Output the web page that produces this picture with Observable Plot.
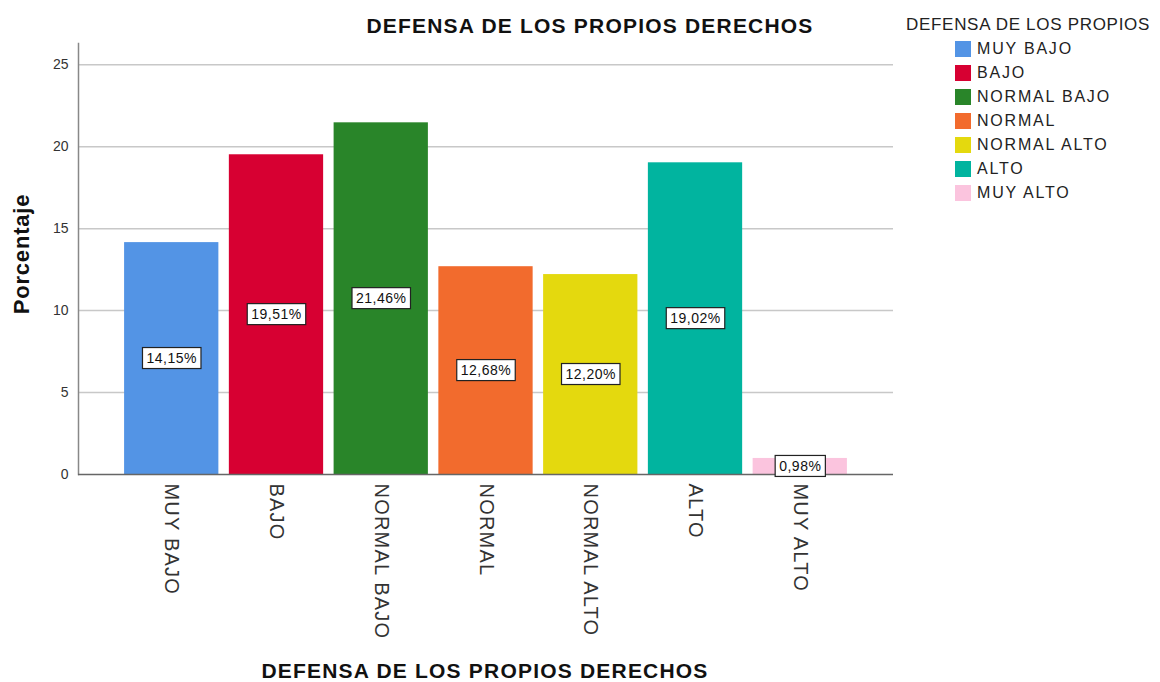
<!DOCTYPE html>
<html>
<head>
<meta charset="utf-8">
<script src="https://cdn.jsdelivr.net/npm/d3@7"></script>
<script src="https://cdn.jsdelivr.net/npm/@observablehq/plot@0.6"></script>
<style>
  body { margin: 0; background: #fff; font-family: "Liberation Sans", Arial, sans-serif; }
  #wrap { position: relative; width: 1160px; height: 682px; overflow: hidden; }
  #chart { position: absolute; left: 0; top: 0; }
  .title { position: absolute; font-weight: bold; font-size: 21px; color: #111; white-space: nowrap; letter-spacing: 1.2px; transform: translateX(-50%); }
  #ytitle { position: absolute; font-weight: bold; font-size: 22px; color: #111; white-space: nowrap; letter-spacing: 0.8px; transform: translate(-50%, -50%) rotate(-90deg); }
  #legend { position: absolute; left: 906px; top: 15px; color: #222; }
  #legend .lt { font-size: 17px; letter-spacing: 0.7px; white-space: nowrap; }
  #legend .row { position: absolute; left: 49px; height: 24px; display: flex; align-items: center; white-space: nowrap; font-size: 16px; letter-spacing: 1.8px; }
  #legend .sw { width: 16px; height: 16px; margin-right: 6px; }
  svg g[aria-label="x-axis tick label"] text { letter-spacing: 1.2px; }
  svg g[aria-label="text"] text { letter-spacing: 0.5px; }
</style>
</head>
<body>
<div id="wrap">
  <div class="title" style="left:590px; top:14px;">DEFENSA DE LOS PROPIOS DERECHOS</div>
  <div class="title" style="left:485px; top:659px;">DEFENSA DE LOS PROPIOS DERECHOS</div>
  <div id="ytitle" style="left:22px; top:254px;">Porcentaje</div>
  <div id="chart"></div>
  <div id="legend"></div>
</div>
<script>
const categories = ["MUY BAJO", "BAJO", "NORMAL BAJO", "NORMAL", "NORMAL ALTO", "ALTO", "MUY ALTO"];
const percentages = [14.15, 19.51, 21.46, 12.68, 12.20, 19.02, 0.98];
const colors = ["#5394e5", "#d70032", "#298529", "#f26b2d", "#e4d90e", "#01b49f", "#fbc4de"];
const yTicks = [0, 5, 10, 15, 20, 25];
const legendTitle = "DEFENSA DE LOS PROPIOS";

const data = categories.map((c, i) => ({cat: c, value: percentages[i]}));
const fmt = v => v.toFixed(2).replace(".", ",") + "%";

const plot = Plot.plot({
  width: 900,
  height: 682,
  marginLeft: 78,
  marginRight: 7,
  marginTop: 43,
  marginBottom: 208,
  style: {fontFamily: "'Liberation Sans', Arial, sans-serif", color: "#333", background: "transparent"},
  x: {domain: categories, paddingInner: 0.1, paddingOuter: 0.44, round: false, axis: null},
  y: {domain: [0, 26.3], axis: null},
  color: {domain: categories, range: colors},
  marks: [
    Plot.ruleY(yTicks.filter(t => t > 0), {stroke: "#c8c8c8", strokeWidth: 1.5}),
    Plot.barY(data, {x: "cat", y: "value", fill: "cat"}),
    Plot.frame({anchor: "left", stroke: "#888", strokeWidth: 1.5}),
    Plot.ruleY([0], {stroke: "#666", strokeWidth: 1.5}),
    Plot.axisY({ticks: yTicks, tickSize: 0, tickPadding: 10, fontSize: 14, label: null, fill: "#333"}),
    Plot.axisX({tickSize: 0, tickPadding: 9, tickRotate: 90, fontSize: 20, label: null, fill: "#333"}),
    Plot.text(data, {x: "cat", y: d => d.value / 2, text: d => fmt(d.value), fontSize: 14, fill: "#111"})
  ]
});
document.getElementById("chart").appendChild(plot);

// white boxes with a dark border behind the value labels
document.querySelectorAll('#chart svg g[aria-label="text"] text').forEach(t => {
  const bb = t.getBBox();
  const r = document.createElementNS("http://www.w3.org/2000/svg", "rect");
  r.setAttribute("x", bb.x - 4);
  r.setAttribute("y", bb.y - 2.5);
  r.setAttribute("width", bb.width + 8);
  r.setAttribute("height", bb.height + 5);
  r.setAttribute("fill", "#fff");
  r.setAttribute("stroke", "#222");
  r.setAttribute("stroke-width", 1.2);
  const tr = t.getAttribute("transform");
  if (tr) r.setAttribute("transform", tr);
  t.parentNode.insertBefore(r, t);
});

// legend
const lg = document.getElementById("legend");
const lt = document.createElement("div");
lt.className = "lt";
lt.textContent = legendTitle;
lg.appendChild(lt);
categories.forEach((c, i) => {
  const row = document.createElement("div");
  row.className = "row";
  row.style.top = (22 + 24 * i) + "px";
  const sw = document.createElement("div");
  sw.className = "sw";
  sw.style.background = colors[i];
  const tx = document.createElement("span");
  tx.textContent = c;
  row.appendChild(sw);
  row.appendChild(tx);
  lg.appendChild(row);
});
</script>
</body>
</html>
